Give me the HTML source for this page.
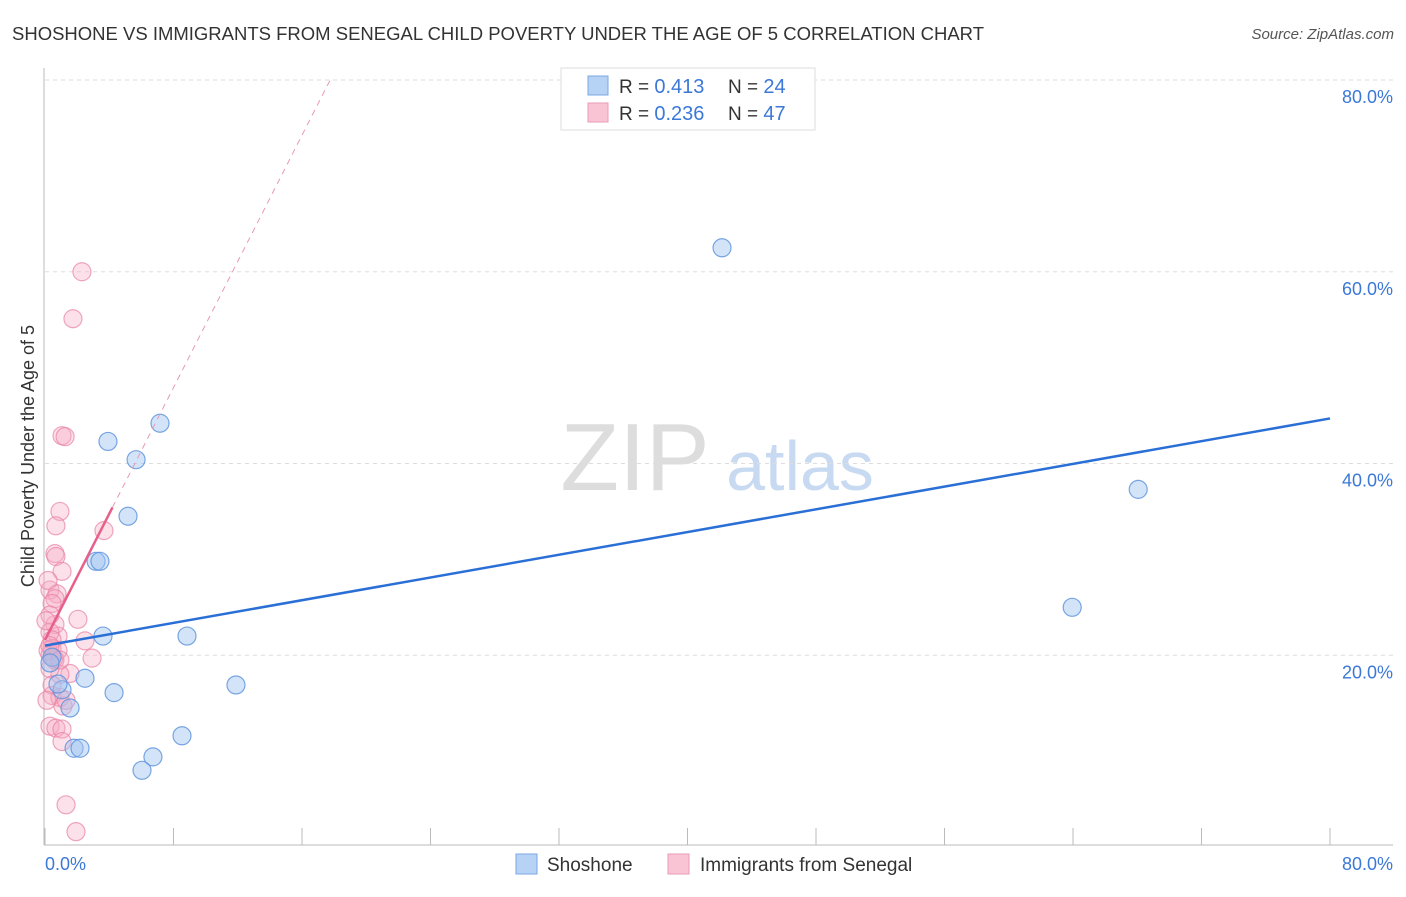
<!DOCTYPE html>
<html><head><meta charset="utf-8"><style>
body{margin:0;background:#fff;font-family:"Liberation Sans",sans-serif;}
svg text{font-family:"Liberation Sans",sans-serif;}
</style></head><body>
<svg width="1406" height="892" viewBox="0 0 1406 892">
<text x="12" y="40" font-size="18.5" fill="#333" textLength="972" lengthAdjust="spacingAndGlyphs">SHOSHONE VS IMMIGRANTS FROM SENEGAL CHILD POVERTY UNDER THE AGE OF 5 CORRELATION CHART</text>
<text x="1394" y="39" font-size="15" fill="#555" text-anchor="end" font-style="italic">Source: ZipAtlas.com</text>
<text x="635" y="490" font-size="96" fill="#ddd" text-anchor="middle" font-family="Liberation Serif">ZIP</text>
<text x="800" y="490" font-size="70" fill="#c8daf2" text-anchor="middle">atlas</text>
<g id="grid"></g>
<g id="marks"></g>
<text transform="translate(34,456) rotate(-90)" font-size="18" fill="#333" text-anchor="middle">Child Poverty Under the Age of 5</text>
<text x="45" y="870" font-size="18" fill="#3b78d8">0.0%</text>
<text x="1393" y="870" font-size="18" fill="#3b78d8" text-anchor="end">80.0%</text>
<g>
<rect x="561" y="68" width="254" height="62" fill="#fff" stroke="#ddd"/>
<rect x="588" y="76" width="20" height="19" fill="#b6d2f5" stroke="#7aa8e4"/>
<rect x="588" y="103" width="20" height="19" fill="#f9c4d4" stroke="#eb9ab6"/>
<text x="619" y="93" font-size="19" fill="#333">R = <tspan fill="#3b78d8" font-size="20">0.413</tspan><tspan x="728">N = </tspan><tspan fill="#3b78d8" font-size="20">24</tspan></text>
<text x="619" y="120" font-size="19" fill="#333">R = <tspan fill="#3b78d8" font-size="20">0.236</tspan><tspan x="728">N = </tspan><tspan fill="#3b78d8" font-size="20">47</tspan></text>
</g>
<g>
<rect x="516" y="854" width="21" height="20" fill="#b6d2f5" stroke="#7aa8e4"/>
<text x="547" y="871" font-size="19" fill="#333">Shoshone</text>
<rect x="668" y="854" width="21" height="20" fill="#f9c4d4" stroke="#eb9ab6"/>
<text x="700" y="871" font-size="19" fill="#333">Immigrants from Senegal</text>
</g>
</svg>
<script>
const yTicks=[20,40,60,80];
const xTicks=[0,8,16,24,32,40,48,56,64,72,80];
const shoshoneX=[42.15,68.06,63.95,7.16,3.92,5.67,5.17,3.18,3.42,3.61,8.84,11.89,4.30,2.49,1.06,0.81,1.56,1.81,2.18,6.04,6.72,8.53,0.44,0.31];
const shoshoneY=[62.5,37.3,25.0,44.2,42.3,40.4,34.5,29.8,29.8,22.0,22.0,16.9,16.1,17.6,16.4,17.0,14.5,10.3,10.3,8.0,9.4,11.6,19.8,19.2];
const senegalX=[2.30,1.74,1.06,1.25,3.67,0.93,0.68,0.62,0.68,1.06,0.31,0.75,0.62,0.44,2.05,0.62,2.49,0.81,0.31,0.44,0.44,0.31,0.62,2.93,1.56,0.93,0.31,0.44,0.93,1.12,0.31,0.68,1.06,1.06,1.31,1.93,0.19,0.31,0.06,0.19,0.56,0.81,1.31,0.44,0.12,0.93,0.31];
const senegalY=[60.0,55.1,42.9,42.8,33.0,35.0,33.5,30.6,30.3,28.75,26.8,26.4,25.9,25.4,23.75,23.2,21.5,22.0,22.4,21.6,20.7,20.0,19.5,19.7,18.1,18.0,18.6,15.8,15.6,14.7,12.6,12.4,12.3,11.0,4.4,1.6,27.8,24.2,23.6,20.5,19.7,20.5,15.3,16.9,15.3,19.5,21.0];
const shoshoneFit=[21.0,44.7];
const senegalFit=[21.6,3.29];
const sx=v=>45+v*(1330-45)/80;
const sy=v=>847-v*(847-80)/80;
const NS="http://www.w3.org/2000/svg";
function mk(tag,attrs,parent){const e=document.createElementNS(NS,tag);for(const k in attrs)e.setAttribute(k,attrs[k]);parent.appendChild(e);return e;}
const grid=document.getElementById('grid'),marks=document.getElementById('marks');
yTicks.forEach(t=>{
 const l=mk('line',{x1:45,x2:1393,y1:sy(t),y2:sy(t),stroke:'#ddd','stroke-dasharray':'4,4'},grid);
 
 
 const tx=mk('text',{x:1393,y:sy(t)+23,'font-size':18,fill:'#3b78d8','text-anchor':'end'},grid);
 tx.textContent=t.toFixed(1)+'%';
 
 
});
xTicks.forEach(t=>{
 const l=mk('line',{x1:sx(t),x2:sx(t),y1:828,y2:845,stroke:'#bbb'},grid);
 
 
});
let ax=mk('line',{x1:44,x2:1393,y1:845,y2:845,stroke:'#bbb'},grid);


ax=mk('line',{x1:44,x2:44,y1:68,y2:845,stroke:'#bbb'},grid);


senegalX.forEach((x,i)=>{
 const c=mk('circle',{cx:sx(x),cy:sy(senegalY[i]),r:9,fill:'rgba(246,170,196,0.35)',stroke:'rgba(232,130,165,0.7)','stroke-width':1.2},marks);
 
 
});
shoshoneX.forEach((x,i)=>{
 const c=mk('circle',{cx:sx(x),cy:sy(shoshoneY[i]),r:9,fill:'rgba(160,196,240,0.45)',stroke:'rgba(90,145,220,0.8)','stroke-width':1.2},marks);
 
 
});
let ln=mk('line',{x1:sx(0),y1:sy(shoshoneFit[0]),x2:sx(80),y2:sy(shoshoneFit[1]),stroke:'#2a6fd6','stroke-width':2.5},marks);


const pf=x=>senegalFit[0]+senegalFit[1]*x;
ln=mk('line',{x1:sx(4.2),y1:sy(pf(4.2)),x2:sx(17.75),y2:sy(pf(17.75)),stroke:'#e899b4','stroke-width':1,'stroke-dasharray':'6,5'},marks);


ln=mk('line',{x1:sx(0),y1:sy(pf(0)),x2:sx(4.2),y2:sy(pf(4.2)),stroke:'#e8608a','stroke-width':2.5},marks);


</script>
</body></html>
